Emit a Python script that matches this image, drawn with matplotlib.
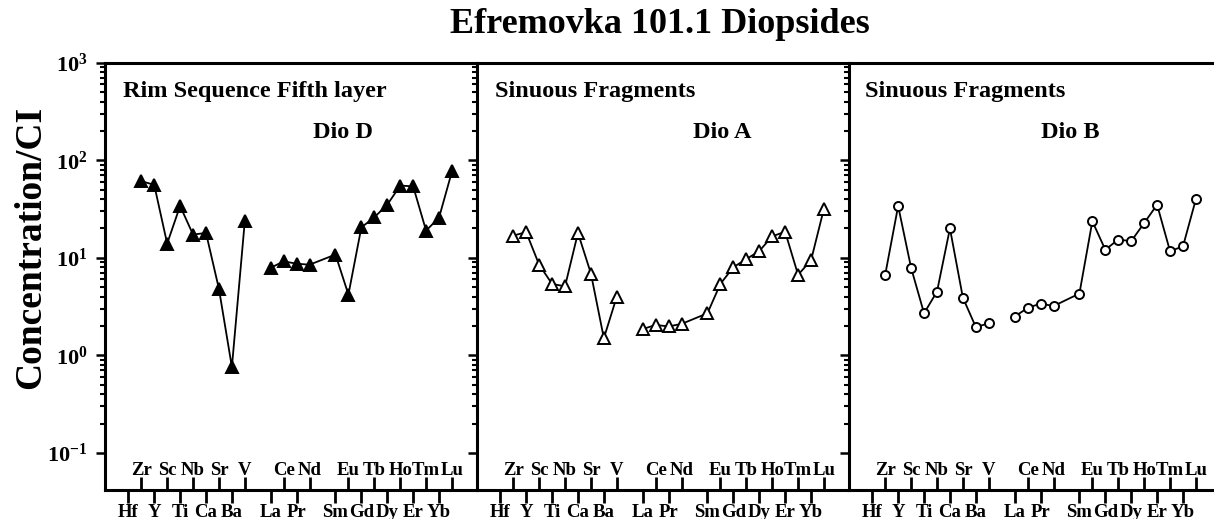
import matplotlib
matplotlib.use('Agg')
import matplotlib.pyplot as plt
import numpy as np
from matplotlib.ticker import FixedLocator, NullFormatter

# element slots along the x axis ('' = empty slot)
slots = ['Hf', 'Zr', 'Y', 'Sc', 'Ti', 'Nb', 'Ca', 'Sr', 'Ba', 'V', '',
         'La', 'Ce', 'Pr', 'Nd', '', 'Sm', 'Eu', 'Gd', 'Tb', 'Dy', 'Ho', 'Er', 'Tm', 'Yb', 'Lu']
upper_labels = ['Zr', 'Sc', 'Nb', 'Sr', 'V', 'Ce', 'Nd', 'Eu', 'Tb', 'Ho', 'Tm', 'Lu']

trace_el = ['Hf', 'Zr', 'Y', 'Sc', 'Ti', 'Nb', 'Ca', 'Sr', 'Ba', 'V']
ree_el = ['La', 'Ce', 'Pr', 'Nd', 'Sm', 'Eu', 'Gd', 'Tb', 'Dy', 'Ho', 'Er', 'Tm', 'Yb', 'Lu']

# Dio D (filled triangles)
dioD_trace = [np.nan, 61, 56, 14, 34, 17.3, 18, 4.8, 0.76, 24]
dioD_ree = [7.9, 9.2, 8.7, 8.5, 10.8, 4.2, 20.5, 26, 35, 55, 54, 19, 25.8, 77]
# Dio A (open triangles)
dioA_trace = [np.nan, 16.9, 18.3, 8.5, 5.4, 5.1, 18, 6.9, 1.5, 4.0]
dioA_ree = [1.86, 2.05, 1.98, 2.1, 2.7, 5.4, 8.0, 9.7, 11.7, 16.6, 18.5, 6.7, 9.4, 32]
# Dio B (open circles)
dioB_trace = [np.nan, 6.7, 34, 7.9, 2.7, 4.5, 20, 3.9, 1.95, 2.13]
dioB_ree = [2.5, 3.06, 3.4, 3.2, 4.3, 23.7, 12.1, 15.4, 14.8, 22.7, 35, 11.7, 13.1, 40]

panel_titles = ['Rim Sequence Fifth layer', 'Sinuous Fragments', 'Sinuous Fragments']
panel_names = ['Dio D', 'Dio A', 'Dio B']

plt.rcParams['font.family'] = ['Liberation Serif', 'DejaVu Serif']
plt.rcParams['font.weight'] = 'bold'
plt.rcParams['mathtext.fontset'] = 'custom'
plt.rcParams['mathtext.rm'] = 'Liberation Serif:bold'
plt.rcParams['mathtext.it'] = 'Liberation Serif:bold'
plt.rcParams['mathtext.bf'] = 'Liberation Serif:bold'


def main():
    xpos = {el: i for i, el in enumerate(slots) if el}
    lower = [el for el in slots if el and el not in upper_labels]

    fig = plt.figure(figsize=(12.14, 5.19), dpi=100)
    lefts = [0.0865, 0.3929, 0.6993]
    series = [(dioD_trace, dioD_ree, '^', 'black', 8),
              (dioA_trace, dioA_ree, '^', 'white', 8),
              (dioB_trace, dioB_ree, 'o', 'white', 6.5)]
    name_x = [0.64, 0.659, 0.594]
    title_x = [0.048, 0.048, 0.043]

    major = [0.1, 1, 10, 100, 1000]
    minor = [k * 10.0 ** e for e in range(-1, 3) for k in range(2, 10)]

    for i in range(3):
        ax = fig.add_axes([lefts[i], 0.0559, 0.3064, 0.8233])
        ax.set_yscale('log')
        ax.set_ylim(10 ** -1.38, 1000)
        ax.set_xlim(-1.8, 26.93)
        ax.patch.set_alpha(0)

        tr, ree, mk, fc, ms = series[i]
        ax.plot([xpos[e] for e in trace_el], tr, color='black', lw=1.3,
                marker=mk, ms=ms, mfc=fc, mec='black', mew=1.4, clip_on=False)
        ax.plot([xpos[e] for e in ree_el], ree, color='black', lw=1.3,
                marker=mk, ms=ms, mfc=fc, mec='black', mew=1.4, clip_on=False)

        ax.yaxis.set_major_locator(FixedLocator(major))
        ax.yaxis.set_minor_locator(FixedLocator(minor))
        ax.yaxis.set_minor_formatter(NullFormatter())
        if i == 0:
            ax.set_yticklabels([r'$10^{-1}$', r'$10^{0}$', r'$10^{1}$', r'$10^{2}$', r'$10^{3}$'])
        else:
            ax.tick_params(axis='y', labelleft=False)
        ax.tick_params(axis='y', which='major', direction='out', length=6.5, width=1.8,
                       labelsize=16, pad=6)
        ax.tick_params(axis='y', which='minor', direction='out', length=3.5, width=1.5)

        ax.set_xticks([xpos[e] for e in lower])
        ax.set_xticklabels(lower, fontsize=13.5, fontweight='bold')
        ax.xaxis.set_minor_locator(FixedLocator([xpos[e] for e in upper_labels]))
        ax.xaxis.set_minor_formatter(NullFormatter())
        ax.tick_params(axis='x', which='major', direction='out', length=9.4, width=2, pad=1)
        ax.tick_params(axis='x', which='minor', direction='in', length=9.4, width=2)
        for e in upper_labels:
            ax.annotate(e, (xpos[e], 0), xycoords=('data', 'axes fraction'),
                        xytext=(0, 10.5), textcoords='offset points',
                        ha='center', va='baseline', fontsize=13.5, fontweight='bold')

        for s in ['top', 'bottom', 'left']:
            ax.spines[s].set_linewidth(2.2)
        ax.spines['right'].set_visible(False)

        ax.text(title_x[i], 0.932, panel_titles[i], transform=ax.transAxes,
                ha='left', va='center', fontsize=17.5, fontweight='bold')
        ax.text(name_x[i], 0.836, panel_names[i], transform=ax.transAxes,
                ha='center', va='center', fontsize=17.5, fontweight='bold')

    fig.text(0.5437, 0.952, 'Efremovka 101.1 Diopsides', ha='center', va='center',
             fontsize=26, fontweight='bold')
    fig.text(0.025, 0.523, 'Concentration/CI', ha='center', va='center',
             rotation=90, fontsize=27, fontweight='bold')

    fig.savefig('out.png', dpi=100)


if __name__ == "__main__":
    main()
